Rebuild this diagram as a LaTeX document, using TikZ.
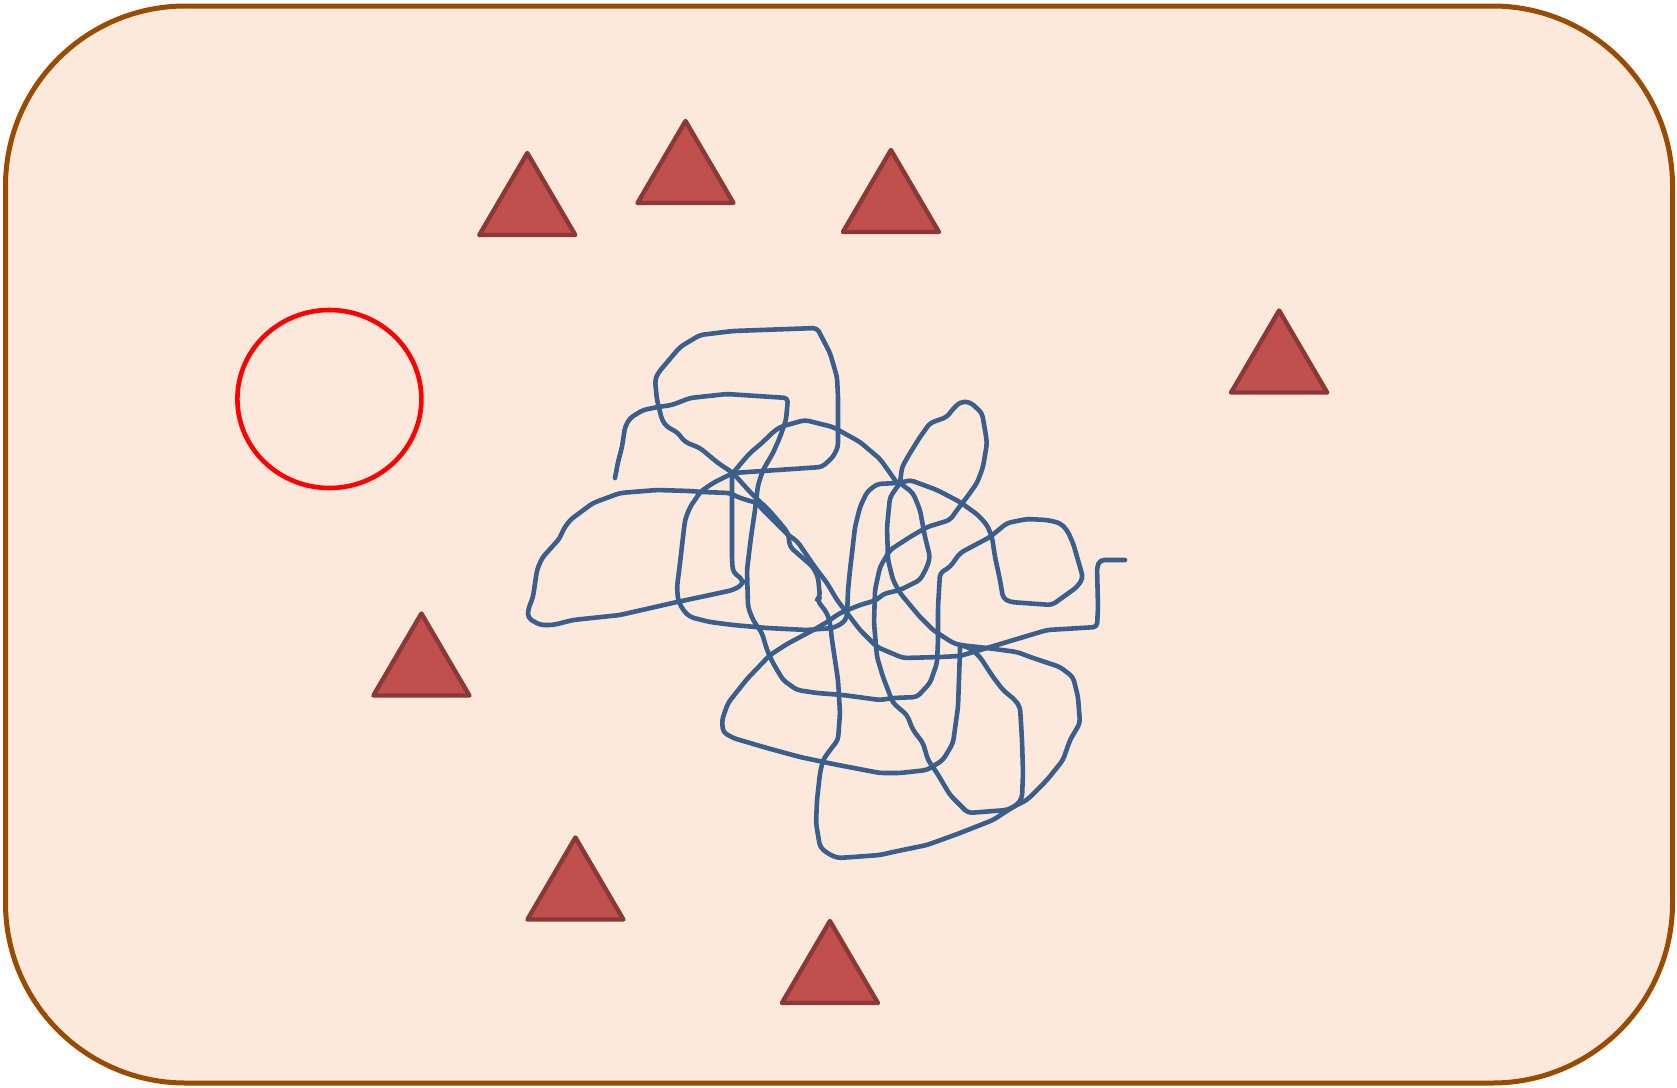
\documentclass[tikz,border=0pt]{standalone}
\definecolor{bgfill}{RGB}{253,233,219}
\definecolor{bgdraw}{RGB}{153,76,0}
\definecolor{tangleblue}{RGB}{58,95,140}
\definecolor{trifill}{RGB}{192,80,77}
\definecolor{tridraw}{RGB}{140,56,54}
\tikzset{
  frame/.style={draw=bgdraw, fill=bgfill, line width=5pt, rounded corners=180pt},
  ring/.style={draw=red, line width=4.6pt},
  tri/.style={draw=tridraw, fill=trifill, line width=4.4pt, line join=round},
  tangle/.style={draw=tangleblue, line width=4.6pt, rounded corners=4pt, line join=round, line cap=round}
}
\newcommand{\mytri}[2]{\draw[tri] (#1,#2) -- ++(48,82) -- ++(-96,0) -- cycle;}
\begin{document}
\begin{tikzpicture}[x=1pt,y=-1pt]
\useasboundingbox (0,0) rectangle (1677,1087);
\draw[frame] (5.5,6) rectangle (1672.5,1083);
\draw[ring] (329.4,399) ellipse [x radius=92, y radius=89];
\mytri{527.3}{153}
\mytri{685.5}{121}
\mytri{890.9}{150}
\mytri{1279.1}{310.5}
\mytri{421.4}{613.5}
\mytri{575.4}{837.5}
\mytri{829.9}{921}
% tangle
\draw[tangle] (615,478) -- (618,462) -- (622,447) -- (625,427) -- (630,418) -- (643,410) -- (658,407) -- (672,405) -- (690,398) -- (727,394) -- (757,396) -- (788,398) -- (786,420) -- (780,437) -- (773,453) -- (763,470) -- (758,485) -- (755,510) -- (751,537) -- (747,570) -- (748,607) -- (753,620) -- (762,633) -- (767,650) -- (773,663) -- (783,680) -- (797,690) -- (817,693) -- (843,695) -- (880,700) -- (893,698) -- (917,697) -- (930,683) -- (937,663) -- (938,640) -- (938,607) -- (940,573) -- (950,567) -- (960,553) -- (990,537) -- (1007,523) -- (1027,519) -- (1047,520) -- (1060,523) -- (1067,530) -- (1073,543) -- (1080,567) -- (1083,578) -- (1077,587) -- (1052,605) -- (1010,602) -- (1003,598) -- (1000,580) -- (995,557) -- (992,537) -- (987,525) -- (978,515) -- (960,502) -- (937,490) -- (910,480) -- (900,483);
\draw[tangle] (733,473) -- (718,463) -- (700,448) -- (685,442) -- (677,432) -- (667,427) -- (662,420) -- (657,400) -- (655,380) -- (658,373) -- (680,347) -- (700,335) -- (733,331) -- (817,328) -- (830,353) -- (837,377) -- (838,397) -- (838,447) -- (833,457) -- (822,467) -- (733,473);
\draw[tangle] (733,473) -- (750,492) -- (760,502) -- (767,508) -- (780,523) -- (788,533) -- (790,547) -- (797,553) -- (813,567) -- (818,577) -- (820,597) -- (817,600) -- (827,613) -- (830,623) -- (832,640) -- (835,660) -- (838,680) -- (840,713) -- (838,740) -- (830,750) -- (823,760) -- (820,773) -- (817,800) -- (816,823) -- (820,847) -- (827,853) -- (837,858) -- (853,857) -- (880,855) -- (893,852) -- (927,845) -- (960,833) -- (993,820) -- (1013,807) -- (1027,800) -- (1047,780) -- (1063,760) -- (1070,740) -- (1080,723) -- (1078,697) -- (1073,677) -- (1060,667) -- (1033,658) -- (1017,652) -- (987,648) -- (960,645) -- (953,643) -- (933,630) -- (920,617) -- (900,593) -- (893,580) -- (888,560) -- (887,527) -- (890,497) -- (900,483);
\draw[tangle] (733,473) -- (743,461) -- (750,453) -- (763,442) -- (772,433) -- (780,427) -- (787,425) -- (805,420) -- (833,427) -- (860,442) -- (880,459) -- (890,473) -- (897,483);
\draw[tangle] (733,473) -- (713,483) -- (700,492) -- (697,497) -- (690,507) -- (685,520) -- (683,537) -- (680,563) -- (677,587) -- (678,600) -- (683,610) -- (690,617) -- (710,622) -- (733,625) -- (767,628) -- (807,630) -- (833,628) -- (843,623) -- (847,617) -- (848,590) -- (850,570) -- (852,553) -- (855,527) -- (860,507) -- (867,492) -- (877,484) -- (897,483);
\draw[tangle] (732,477) -- (732,560) -- (733,572) -- (743,580) -- (742,585) -- (733,590) -- (710,595) -- (677,602) -- (633,612) -- (620,615) -- (573,620) -- (553,625) -- (540,625) -- (528,618) -- (528,610) -- (533,597) -- (537,570) -- (542,558) -- (560,538) -- (563,530) -- (570,520) -- (593,503) -- (620,493) -- (657,490) -- (690,491) -- (703,492) -- (730,493) -- (740,498) -- (757,503) -- (763,510) -- (773,520) -- (783,530) -- (788,535) -- (797,541) -- (810,560) -- (817,570) -- (827,583) -- (837,600) -- (847,613) -- (860,630) -- (877,647) -- (903,658) -- (940,657) -- (960,656) -- (970,653) -- (1007,642) -- (1047,630) -- (1097,627) -- (1098,607) -- (1097,567) -- (1100,560) -- (1125,560);
\draw[tangle] (900,483) -- (913,493) -- (920,510) -- (925,537) -- (930,557) -- (927,567) -- (920,580) -- (900,590) -- (883,594) -- (877,600) -- (860,605) -- (840,613) -- (827,622) -- (817,628) -- (787,644) -- (770,655) -- (747,679) -- (728,703) -- (722,720) -- (723,732) -- (733,738) -- (767,748) -- (800,757) -- (833,764) -- (880,773) -- (900,773) -- (927,770) -- (943,760) -- (953,743) -- (958,707) -- (960,650) -- (960,645);
\draw[tangle] (900,483) -- (902,467) -- (910,453) -- (920,437) -- (930,423) -- (947,417) -- (952,410) -- (960,402) -- (970,402) -- (982,413) -- (985,430) -- (987,443) -- (983,467) -- (977,483) -- (967,497) -- (957,510) -- (950,520) -- (927,527) -- (910,537) -- (890,550) -- (880,567) -- (875,590) -- (874,623) -- (877,657) -- (883,677) -- (893,703) -- (907,715) -- (913,730) -- (923,743) -- (928,760) -- (937,773) -- (950,795) -- (968,813) -- (1007,810) -- (1017,805) -- (1022,798) -- (1023,773) -- (1022,740) -- (1020,707) -- (1015,700) -- (1003,690) -- (993,677) -- (980,657) -- (970,648) -- (960,645);
\end{tikzpicture}
\end{document}
